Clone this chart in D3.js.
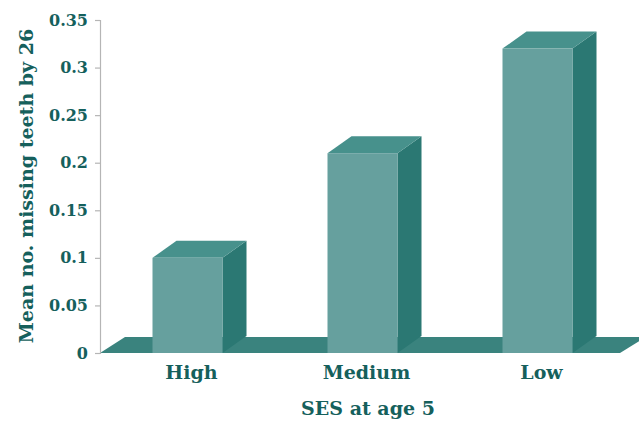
<!DOCTYPE html>
<html><head><meta charset="utf-8">
<script src="https://cdn.jsdelivr.net/npm/d3@7"></script>
<style>html,body{margin:0;padding:0;background:#fff;}</style>
</head><body>
<svg id="chart" width="639" height="425"></svg>
<script>
const categories = ["High", "Medium", "Low"];
const values = [0.10, 0.21, 0.32];
const yTicks = [0, 0.05, 0.1, 0.15, 0.2, 0.25, 0.3, 0.35];
const yTickLabels = ["0", "0.05", "0.1", "0.15", "0.2", "0.25", "0.3", "0.35"];
const xTitle = "SES at age 5";
const yTitle = "Mean no. missing teeth by 26";

const svg = d3.select("#chart");
const textColor = "#15605c";
const font = "'DejaVu Serif', serif";
const dx = 24, dy = -17;

const y = d3.scaleLinear().domain([0, 0.35]).range([353, 20]);
const x = d3.scaleBand().domain(categories).range([100, 625]).paddingInner(0.6).paddingOuter(0.3);

// floor
const fx0 = 100, fx1 = 620, fy = y(0);
svg.append("path")
  .attr("d", `M${fx0},${fy} L${fx0+dx+1},${fy+dy+1} L${fx1+dx+2},${fy+dy+1} L${fx1},${fy} Z`)
  .attr("fill", "#3a837e");

// y axis
const yAxis = d3.axisLeft(y).tickValues(yTicks).tickSize(5).tickFormat((d,i)=>yTickLabels[i]);
const ga = svg.append("g").attr("transform", "translate(100,0)").call(yAxis);
ga.select(".domain").attr("stroke", "#b5b5b5").attr("stroke-width", 1.2);
ga.selectAll(".tick line").attr("stroke", "#b5b5b5").attr("stroke-width", 1.2);
ga.selectAll(".tick text")
  .attr("x", -12)
  .attr("fill", textColor)
  .attr("font-family", font)
  .attr("font-weight", "bold")
  .attr("font-size", 16);

// bars
const bars = svg.append("g");
categories.forEach((c, i) => {
  const x0 = x(c), w = x.bandwidth(), yt = y(values[i]), yb = y(0);
  // side
  bars.append("path")
    .attr("d", `M${x0+w},${yb} L${x0+w},${yt} L${x0+w+dx},${yt+dy} L${x0+w+dx},${yb+dy} Z`)
    .attr("fill", "#2b7873");
  // top
  bars.append("path")
    .attr("d", `M${x0},${yt} L${x0+dx},${yt+dy} L${x0+w+dx},${yt+dy} L${x0+w},${yt} Z`)
    .attr("fill", "#47918c");
  // front
  bars.append("rect")
    .attr("x", x0).attr("y", yt).attr("width", w).attr("height", yb - yt)
    .attr("fill", "#66a09e");
});

// category labels
svg.append("g").selectAll("text").data(categories).join("text")
  .attr("x", d => x(d) + x.bandwidth()/2 + 4)
  .attr("y", 379)
  .attr("text-anchor", "middle")
  .attr("fill", textColor)
  .attr("font-family", font)
  .attr("font-weight", "bold")
  .attr("font-size", 19)
  .text(d => d);

// axis titles
svg.append("text")
  .attr("x", 368).attr("y", 415)
  .attr("text-anchor", "middle")
  .attr("fill", textColor)
  .attr("font-family", font)
  .attr("font-weight", "bold")
  .attr("font-size", 19)
  .text(xTitle);

svg.append("text")
  .attr("transform", "translate(33,186) rotate(-90)")
  .attr("text-anchor", "middle")
  .attr("fill", textColor)
  .attr("font-family", font)
  .attr("font-weight", "bold")
  .attr("font-size", 19)
  .text(yTitle);
</script>
</body></html>
